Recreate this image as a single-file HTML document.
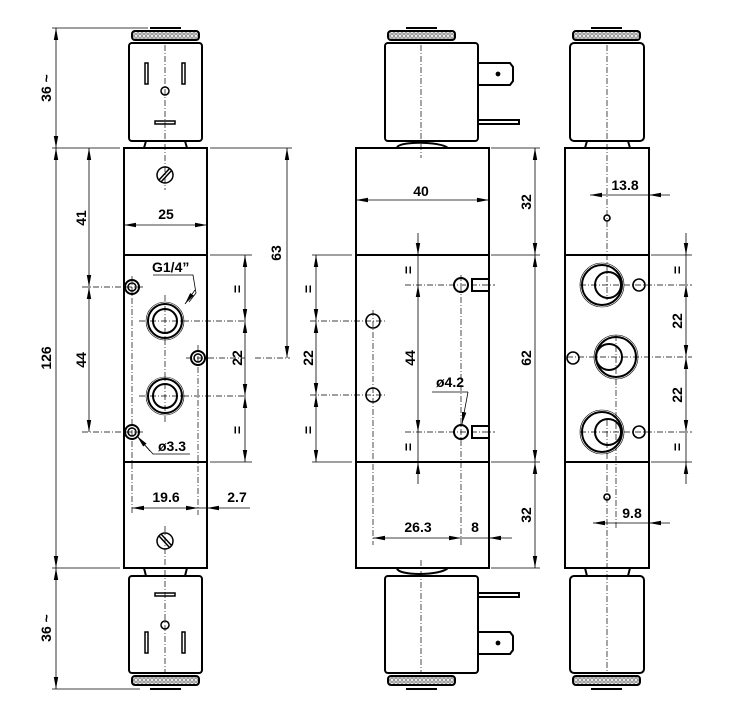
<!DOCTYPE html>
<html><head><meta charset="utf-8"><style>
html,body{margin:0;padding:0;background:#fff;}
svg{display:block;}
text{font-family:"Liberation Sans",Arial,sans-serif;font-size:14px;font-weight:bold;fill:#000;}
</style></head><body>
<svg width="756" height="718" viewBox="0 0 756 718" xmlns="http://www.w3.org/2000/svg">
<defs>
<marker id="a" viewBox="0 0 12 6" refX="12" refY="3" markerWidth="12" markerHeight="6" markerUnits="userSpaceOnUse" orient="auto-start-reverse"><path d="M0,0.8 L12,3 L0,5.2z" fill="#000"/></marker>
<pattern id="k" width="4" height="4" patternUnits="userSpaceOnUse"><rect width="4" height="4" fill="#fff"/><circle cx="2" cy="2" r="1.3" fill="none" stroke="#666" stroke-width="0.8"/></pattern>
</defs>
<g fill="none" stroke="#000" stroke-width="0.8">
<!-- ===== LEFT VIEW ===== -->
<g stroke-width="2">
<rect x="124" y="148" width="83" height="420"/>
<line x1="124" y1="255" x2="207" y2="255"/><line x1="124" y1="462" x2="207" y2="462"/>
<rect x="129" y="43" width="73" height="98" rx="3"/>
<rect x="129" y="576" width="73" height="97" rx="3"/>
<path d="M144,148 L146,141 L185,141 L187,148"/>
<path d="M144,568 L146,576 L185,576 L187,568"/>
</g>
<rect x="132" y="31" width="67" height="9" rx="3" fill="url(#k)" stroke-width="2"/>
<rect x="132" y="676" width="67" height="9" rx="3" fill="url(#k)" stroke-width="2"/>
<line x1="150" y1="28" x2="181" y2="28" stroke-width="2"/><line x1="150" y1="689" x2="181" y2="689" stroke-width="2"/>
<g stroke-width="1.5">
<rect x="145" y="63" width="3" height="21"/><rect x="182" y="63" width="3" height="21"/>
<circle cx="165" cy="91" r="4"/><rect x="155" y="121" width="20" height="3"/>
<rect x="145" y="632" width="3" height="21"/><rect x="182" y="632" width="3" height="21"/>
<circle cx="165" cy="625" r="4"/><rect x="155" y="593" width="20" height="3"/>
<circle cx="165" cy="175" r="8"/><line x1="159" y1="180" x2="170" y2="168"/><line x1="161" y1="182" x2="172" y2="170"/>
<circle cx="165" cy="541" r="8"/><line x1="159" y1="536" x2="170" y2="548"/><line x1="161" y1="534" x2="172" y2="546"/>
<circle cx="165" cy="321" r="17" stroke-width="2"/><circle cx="165" cy="321" r="12" stroke-width="2"/><circle cx="165" cy="321" r="19" stroke-width="0.6"/>
<circle cx="165" cy="396" r="17" stroke-width="2"/><circle cx="165" cy="396" r="12" stroke-width="2"/><circle cx="165" cy="396" r="19" stroke-width="0.6"/>
<circle cx="132" cy="287" r="7" stroke-width="2"/><circle cx="132" cy="287" r="4"/>
<circle cx="198" cy="358" r="7" stroke-width="2"/><circle cx="198" cy="358" r="4"/>
<circle cx="132" cy="432" r="7" stroke-width="2"/><circle cx="132" cy="432" r="4"/>
</g>
<g stroke-dasharray="6,2,1,2" stroke-width="0.7">
<line x1="165" y1="45" x2="165" y2="190"/><line x1="165" y1="526" x2="165" y2="672"/>
<line x1="165" y1="295" x2="165" y2="422"/>
<line x1="139" y1="321" x2="245" y2="321"/><line x1="139" y1="396" x2="245" y2="396"/>
<line x1="82" y1="287" x2="145" y2="287"/><line x1="82" y1="432" x2="145" y2="432"/>
<line x1="186" y1="358" x2="245" y2="358"/><line x1="255" y1="358" x2="290" y2="358"/>
<line x1="132" y1="276" x2="132" y2="515"/><line x1="198" y1="345" x2="198" y2="515"/>
</g>
<line x1="52" y1="28" x2="148" y2="28"/><line x1="52" y1="148" x2="120" y2="148"/><line x1="52" y1="568" x2="120" y2="568"/><line x1="52" y1="689" x2="140" y2="689"/>
<line x1="56" y1="28" x2="56" y2="148" marker-start="url(#a)" marker-end="url(#a)"/>
<line x1="56" y1="148" x2="56" y2="568" marker-start="url(#a)" marker-end="url(#a)"/>
<line x1="56" y1="568" x2="56" y2="689" marker-start="url(#a)" marker-end="url(#a)"/>
<line x1="89" y1="148" x2="89" y2="287" marker-start="url(#a)" marker-end="url(#a)"/>
<line x1="89" y1="287" x2="89" y2="432" marker-start="url(#a)" marker-end="url(#a)"/>
<line x1="210" y1="148" x2="292" y2="148"/><line x1="210" y1="255" x2="252" y2="255"/><line x1="210" y1="462" x2="252" y2="462"/>
<line x1="287" y1="148" x2="287" y2="358" marker-start="url(#a)" marker-end="url(#a)"/>
<line x1="245" y1="255" x2="245" y2="321" marker-start="url(#a)" marker-end="url(#a)"/>
<line x1="245" y1="321" x2="245" y2="396" marker-start="url(#a)" marker-end="url(#a)"/>
<line x1="245" y1="396" x2="245" y2="462" marker-start="url(#a)" marker-end="url(#a)"/>
<line x1="124" y1="225" x2="207" y2="225" marker-start="url(#a)" marker-end="url(#a)"/>
<line x1="132" y1="508" x2="198" y2="508" marker-start="url(#a)" marker-end="url(#a)"/>
<line x1="198" y1="508" x2="207" y2="508"/><line x1="250" y1="508" x2="207" y2="508" marker-end="url(#a)"/>
<path d="M153,275 L193,275 L196,293 L189,302"/><line x1="195" y1="290" x2="185" y2="304" marker-end="url(#a)"/>
<path d="M190,454 L153,454 L142,442"/><line x1="150" y1="451" x2="137" y2="436" marker-end="url(#a)"/>

<!-- ===== MIDDLE VIEW ===== -->
<g stroke-width="2">
<rect x="356" y="148" width="133" height="420"/>
<line x1="356" y1="255" x2="489" y2="255"/><line x1="356" y1="462" x2="489" y2="462"/>
<rect x="385" y="43" width="93" height="98" rx="3"/>
<rect x="385" y="576" width="93" height="97" rx="3"/>
<path d="M478,63 L510,63 L513,67 L513,81 L510,85 L478,85"/>
<path d="M478,632 L510,632 L513,636 L513,650 L510,654 L478,654"/>
<path d="M478,120 L519,120 L519,124 L478,124"/>
<path d="M478,593 L519,593 L519,597 L478,597"/>
<path d="M397,148 C397,141 440,141 448,148"/><path d="M397,568 C397,576 440,576 448,568"/>
<circle cx="461" cy="285" r="7"/><rect x="472" y="279" width="17" height="12"/>
<circle cx="461" cy="432" r="7"/><rect x="472" y="426" width="17" height="12"/>
</g>
<circle cx="498" cy="74" r="2" fill="#000"/><circle cx="498" cy="643" r="2" fill="#000"/>
<rect x="388" y="31" width="67" height="9" rx="3" fill="url(#k)" stroke-width="2"/>
<rect x="388" y="676" width="67" height="9" rx="3" fill="url(#k)" stroke-width="2"/>
<line x1="406" y1="28" x2="437" y2="28" stroke-width="2"/><line x1="406" y1="689" x2="437" y2="689" stroke-width="2"/>
<circle cx="373" cy="321" r="7" stroke-width="1.6"/><circle cx="373" cy="395" r="7" stroke-width="1.6"/>
<g stroke-dasharray="6,2,1,2" stroke-width="0.7">
<line x1="421" y1="45" x2="421" y2="158"/><line x1="421" y1="560" x2="421" y2="672"/>
<line x1="310" y1="321" x2="386" y2="321"/><line x1="310" y1="395" x2="386" y2="395"/>
<line x1="373" y1="310" x2="373" y2="545"/><line x1="461" y1="275" x2="461" y2="545"/>
<line x1="405" y1="285" x2="495" y2="285"/><line x1="405" y1="432" x2="495" y2="432"/>
</g>
<line x1="356" y1="200" x2="489" y2="200" marker-start="url(#a)" marker-end="url(#a)"/>
<line x1="491" y1="148" x2="540" y2="148"/><line x1="491" y1="255" x2="540" y2="255"/><line x1="491" y1="462" x2="540" y2="462"/><line x1="491" y1="568" x2="540" y2="568"/>
<line x1="535" y1="148" x2="535" y2="255" marker-start="url(#a)" marker-end="url(#a)"/>
<line x1="535" y1="255" x2="535" y2="462" marker-start="url(#a)" marker-end="url(#a)"/>
<line x1="535" y1="462" x2="535" y2="568" marker-start="url(#a)" marker-end="url(#a)"/>
<line x1="312" y1="255" x2="352" y2="255"/><line x1="312" y1="462" x2="352" y2="462"/>
<line x1="316" y1="255" x2="316" y2="321" marker-start="url(#a)" marker-end="url(#a)"/>
<line x1="316" y1="321" x2="316" y2="395" marker-start="url(#a)" marker-end="url(#a)"/>
<line x1="316" y1="395" x2="316" y2="462" marker-start="url(#a)" marker-end="url(#a)"/>
<line x1="418" y1="233" x2="418" y2="255" marker-end="url(#a)"/>
<line x1="418" y1="285" x2="418" y2="432" marker-start="url(#a)" marker-end="url(#a)"/>
<line x1="418" y1="484" x2="418" y2="462" marker-end="url(#a)"/>
<line x1="418" y1="255" x2="418" y2="285"/><line x1="418" y1="432" x2="418" y2="462"/>
<line x1="373" y1="538" x2="461" y2="538" marker-start="url(#a)" marker-end="url(#a)"/>
<line x1="461" y1="538" x2="489" y2="538"/><line x1="512" y1="538" x2="489" y2="538" marker-end="url(#a)"/>
<polyline points="432,392 468,392"/><line x1="468" y1="392" x2="462" y2="424" marker-end="url(#a)"/>

<!-- ===== RIGHT VIEW ===== -->
<g stroke-width="2">
<rect x="565" y="148" width="84" height="420"/>
<line x1="565" y1="255" x2="649" y2="255"/><line x1="565" y1="462" x2="649" y2="462"/>
<rect x="570" y="43" width="74" height="98" rx="4"/>
<rect x="570" y="576" width="74" height="97" rx="4"/>
<path d="M585,148 L587,141 L628,141 L630,148"/><path d="M585,568 L587,576 L628,576 L630,568"/>
<circle cx="602" cy="285" r="20"/><circle cx="608" cy="285" r="13"/>
<circle cx="616" cy="357" r="20"/><circle cx="609" cy="357" r="13"/>
<circle cx="602" cy="432" r="20"/><circle cx="608" cy="432" r="13"/>
</g>
<circle cx="602" cy="285" r="22" stroke-width="0.6"/><circle cx="616" cy="357" r="22" stroke-width="0.6"/><circle cx="602" cy="432" r="22" stroke-width="0.6"/>
<rect x="573" y="31" width="67" height="9" rx="3" fill="url(#k)" stroke-width="2"/>
<rect x="573" y="676" width="67" height="9" rx="3" fill="url(#k)" stroke-width="2"/>
<line x1="591" y1="28" x2="622" y2="28" stroke-width="2"/><line x1="591" y1="689" x2="622" y2="689" stroke-width="2"/>
<g stroke-width="1.6">
<circle cx="639" cy="285" r="6"/><circle cx="573" cy="358" r="6"/><circle cx="639" cy="432" r="6"/>
<circle cx="607" cy="218" r="3"/><circle cx="607" cy="497" r="3"/>
</g>
<g stroke-dasharray="6,2,1,2" stroke-width="0.7">
<line x1="607" y1="45" x2="607" y2="300"/><line x1="607" y1="420" x2="607" y2="672"/>
<line x1="616" y1="335" x2="616" y2="530"/>
<line x1="580" y1="285" x2="692" y2="285"/><line x1="567" y1="357" x2="692" y2="357"/><line x1="580" y1="432" x2="692" y2="432"/>
</g>
<line x1="651" y1="255" x2="692" y2="255"/><line x1="651" y1="462" x2="692" y2="462"/>
<line x1="686" y1="233" x2="686" y2="255" marker-end="url(#a)"/><line x1="686" y1="255" x2="686" y2="285"/>
<line x1="686" y1="285" x2="686" y2="357" marker-start="url(#a)" marker-end="url(#a)"/>
<line x1="686" y1="357" x2="686" y2="432" marker-start="url(#a)" marker-end="url(#a)"/>
<line x1="686" y1="432" x2="686" y2="462"/><line x1="686" y1="484" x2="686" y2="462" marker-end="url(#a)"/>
<line x1="590" y1="195" x2="607" y2="195" marker-start="url(#a)"/>
<line x1="670" y1="195" x2="649" y2="195" marker-end="url(#a)"/><line x1="607" y1="195" x2="649" y2="195"/>
<line x1="593" y1="523" x2="616" y2="523" marker-start="url(#a)"/><line x1="616" y1="523" x2="649" y2="523"/>
<line x1="670" y1="523" x2="649" y2="523" marker-end="url(#a)"/>
</g>
<!-- TEXT -->
<text transform="translate(51,88) rotate(-90)" text-anchor="middle">36 ~</text>
<text transform="translate(51,628) rotate(-90)" text-anchor="middle">36 ~</text>
<text transform="translate(51,358) rotate(-90)" text-anchor="middle">126</text>
<text transform="translate(86,218) rotate(-90)" text-anchor="middle">41</text>
<text transform="translate(86,360) rotate(-90)" text-anchor="middle">44</text>
<text transform="translate(281,253) rotate(-90)" text-anchor="middle">63</text>
<text transform="translate(242,358) rotate(-90)" text-anchor="middle">22</text>
<text transform="translate(242,289) rotate(-90)" text-anchor="middle">=</text>
<text transform="translate(242,430) rotate(-90)" text-anchor="middle">=</text>
<text x="166" y="219" text-anchor="middle">25</text>
<text x="152" y="272">G1/4”</text>
<text x="158" y="451">ø3.3</text>
<text x="166" y="502" text-anchor="middle">19.6</text>
<text x="237" y="502" text-anchor="middle">2.7</text>
<text x="421" y="196" text-anchor="middle">40</text>
<text transform="translate(531,202) rotate(-90)" text-anchor="middle">32</text>
<text transform="translate(531,358) rotate(-90)" text-anchor="middle">62</text>
<text transform="translate(531,515) rotate(-90)" text-anchor="middle">32</text>
<text transform="translate(313,358) rotate(-90)" text-anchor="middle">22</text>
<text transform="translate(313,289) rotate(-90)" text-anchor="middle">=</text>
<text transform="translate(313,430) rotate(-90)" text-anchor="middle">=</text>
<text transform="translate(415,358) rotate(-90)" text-anchor="middle">44</text>
<text transform="translate(413,270) rotate(-90)" text-anchor="middle">=</text>
<text transform="translate(413,447) rotate(-90)" text-anchor="middle">=</text>
<text x="450" y="387" text-anchor="middle">ø4.2</text>
<text x="418" y="532" text-anchor="middle">26.3</text>
<text x="475" y="532" text-anchor="middle">8</text>
<text x="625" y="190" text-anchor="middle">13.8</text>
<text x="632" y="518" text-anchor="middle">9.8</text>
<text transform="translate(682,321) rotate(-90)" text-anchor="middle">22</text>
<text transform="translate(682,395) rotate(-90)" text-anchor="middle">22</text>
<text transform="translate(682,270) rotate(-90)" text-anchor="middle">=</text>
<text transform="translate(682,447) rotate(-90)" text-anchor="middle">=</text>
</svg>
</body></html>
